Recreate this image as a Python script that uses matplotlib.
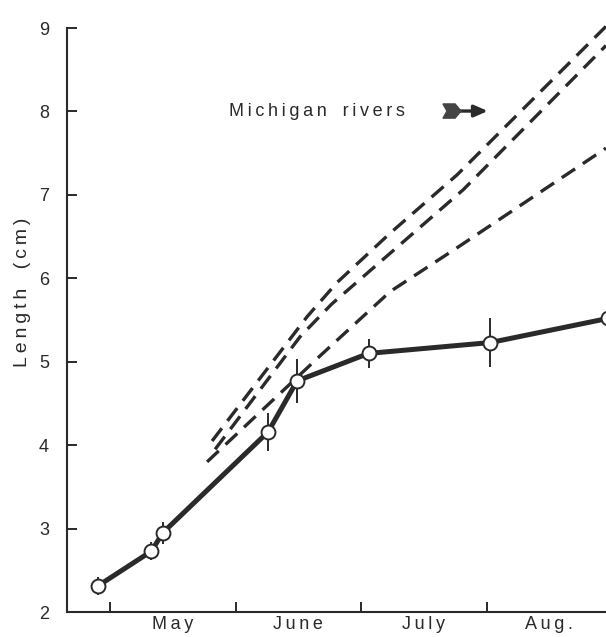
import matplotlib
matplotlib.use("Agg")
import matplotlib.pyplot as plt
from matplotlib.patches import Polygon

# x in months counted from 1 May; y = body length in cm
obs_month = [-0.10, 0.33, 0.42, 1.26, 1.49, 2.06, 3.03, 3.97]
obs_length = [2.31, 2.73, 2.95, 4.16, 4.77, 5.10, 5.23, 5.52]
obs_err = [0.11, 0.11, 0.13, 0.23, 0.26, 0.17, 0.29, 0.20]

# growth curves for Michigan rivers
mich_a_month = [0.813, 1.570, 1.809, 2.231, 2.765, 3.952]
mich_a_length = [4.05, 5.54, 5.95, 6.54, 7.24, 9.02]
mich_b_month = [0.837, 1.514, 1.765, 2.813, 3.952]
mich_b_length = [3.95, 5.30, 5.69, 7.06, 8.79]
mich_c_month = [0.773, 1.673, 2.231, 2.789, 3.952]
mich_c_length = [3.80, 5.07, 5.84, 6.39, 7.56]

months = ["May", "June", "July", "Aug."]
yticks = [2, 3, 4, 5, 6, 7, 8, 9]

ink = "#2a2a2a"
fam = ["Liberation Sans", "DejaVu Sans"]
plt.rcParams["font.family"] = fam


def spaced(s, gap="\u2009"):
    return gap.join(s).replace(gap + " " + gap, gap + " " + gap + gap)


fig = plt.figure(figsize=(6.06, 6.37), dpi=100)
ax = fig.add_axes([0.1106, 0.0392, 0.8894, 0.9168])
ax.set_xlim(-0.343, 3.952)
ax.set_ylim(2, 9)

for xs, ys in [(mich_a_month, mich_a_length), (mich_b_month, mich_b_length),
               (mich_c_month, mich_c_length)]:
    ax.plot(xs, ys, color=ink, lw=2.4, linestyle=(0, (4.8, 2.8)),
            dash_capstyle="butt", clip_on=False)

ax.errorbar(obs_month, obs_length, yerr=obs_err, fmt="none", ecolor=ink,
            elinewidth=1.4, capsize=0, zorder=3)
ax.plot(obs_month, obs_length, color=ink, lw=3.6, zorder=4)
ax.plot(obs_month, obs_length, "o", ms=10, mfc="white", mec=ink, mew=1.4,
        zorder=5)

# "Michigan rivers" label with a fletched arrow
ax.text(1.645, 8.0, spaced("Michigan rivers"), fontsize=13, color=ink,
        ha="center", va="center")
ax.annotate("", xy=(3.01, 8.005), xytext=(2.76, 8.005),
            arrowprops=dict(arrowstyle="-|>,head_length=0.8,head_width=0.35",
                            color=ink, lw=2.4, shrinkA=0, shrinkB=0))
fletch = Polygon([(2.653, 8.09), (2.749, 8.09), (2.797, 8.005),
                  (2.749, 7.92), (2.653, 7.92), (2.685, 8.005)],
                 closed=True, color="#444444", zorder=4)
ax.add_patch(fletch)

for s in ["top", "right"]:
    ax.spines[s].set_visible(False)
for s in ["left", "bottom"]:
    ax.spines[s].set_color(ink)
    ax.spines[s].set_linewidth(1.5)

ax.set_yticks(yticks)
ax.set_yticklabels([str(v) for v in yticks])
ax.tick_params(axis="y", direction="in", length=7, width=1.4, color=ink,
               labelsize=13, labelcolor=ink, pad=13)

ax.set_xticks([0, 1, 2, 3])
ax.set_xticklabels([])
ax.set_xticks([0.5, 1.5, 2.5, 3.5], minor=True)
ax.set_xticklabels([spaced(m) for m in months], minor=True)
ax.tick_params(axis="x", which="major", direction="in", length=7, width=1.4,
               color=ink)
ax.tick_params(axis="x", which="minor", length=0, labelsize=13,
               labelcolor=ink, pad=3)

ax.set_ylabel(spaced("Length") + "\u2009\u2009\u2009\u2009\u2009" + spaced("(cm)"),
              fontsize=14, color=ink)
ax.yaxis.set_label_coords(-0.066, 0.548)

fig.savefig("out.png", dpi=100, facecolor="white")
